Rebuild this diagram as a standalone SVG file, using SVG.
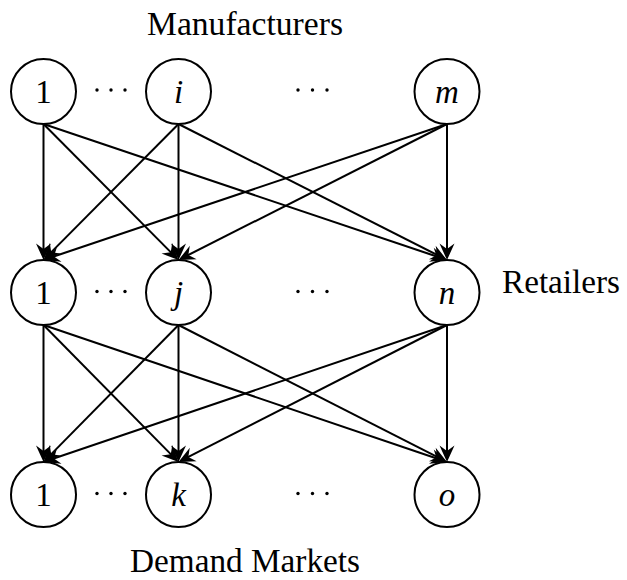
<svg xmlns="http://www.w3.org/2000/svg" width="627" height="580" viewBox="0 0 627 580">
<style>
.n{fill:#fff;stroke:#000;stroke-width:2}
.t{font-family:"Liberation Serif","DejaVu Serif",serif;font-size:33px;fill:#000;text-anchor:middle}
.i{font-style:italic}
.e line{stroke:#000;stroke-width:2;marker-end:url(#ah)}
.d{fill:#000}
</style>
<defs>
<marker id="ah" markerUnits="userSpaceOnUse" viewBox="-8 -9 20 18" refX="0" refY="0" markerWidth="20" markerHeight="18" orient="auto">
<path d="M10,0 L-6.5,7.5 L-1,0 L-6.5,-7.5 Z" fill="#000"/>
</marker>
</defs>
<rect width="627" height="580" fill="#fff"/>
<g id="labels">
<text class="t" x="245" y="35" textLength="196" lengthAdjust="spacingAndGlyphs">Manufacturers</text>
<text class="t" x="561" y="293" textLength="118" lengthAdjust="spacingAndGlyphs">Retailers</text>
<text class="t" x="245" y="572" textLength="230" lengthAdjust="spacingAndGlyphs">Demand Markets</text>
</g>
<g class="e" id="connectors">
<line x1="43.5" y1="124" x2="43.5" y2="250"/>
<line x1="43.5" y1="124" x2="171.45" y2="252.9"/>
<line x1="43.5" y1="124" x2="437.52" y2="256.81"/>
<line x1="178.5" y1="124" x2="50.55" y2="252.9"/>
<line x1="178.5" y1="124" x2="178.5" y2="250"/>
<line x1="178.5" y1="124" x2="438.08" y2="255.48"/>
<line x1="447" y1="124" x2="52.98" y2="256.81"/>
<line x1="447" y1="124" x2="187.42" y2="255.48"/>
<line x1="447" y1="124" x2="447" y2="250"/>
<line x1="43.5" y1="325" x2="43.5" y2="452"/>
<line x1="43.5" y1="325" x2="171.48" y2="454.88"/>
<line x1="43.5" y1="325" x2="437.53" y2="458.79"/>
<line x1="178.5" y1="325" x2="50.52" y2="454.88"/>
<line x1="178.5" y1="325" x2="178.5" y2="452"/>
<line x1="178.5" y1="325" x2="438.09" y2="457.46"/>
<line x1="447" y1="325" x2="52.97" y2="458.79"/>
<line x1="447" y1="325" x2="187.41" y2="457.46"/>
<line x1="447" y1="325" x2="447" y2="452"/>
</g>
<g id="m1"><circle class="n" cx="43.5" cy="91.5" r="32.5"/><text class="t" x="43.5" y="103">1</text></g>
<g id="mi"><circle class="n" cx="178.5" cy="91.5" r="32.5"/><text class="t i" x="178.5" y="103">i</text></g>
<g id="mm"><circle class="n" cx="447" cy="91.5" r="32.5"/><text class="t i" x="447" y="103">m</text></g>
<g id="r1"><circle class="n" cx="43.5" cy="292.5" r="32.5"/><text class="t" x="43.5" y="304">1</text></g>
<g id="rj"><circle class="n" cx="178.5" cy="292.5" r="32.5"/><text class="t i" x="178.5" y="304">j</text></g>
<g id="rn"><circle class="n" cx="447" cy="292.5" r="32.5"/><text class="t i" x="447" y="304">n</text></g>
<g id="d1"><circle class="n" cx="43.5" cy="494.5" r="32.5"/><text class="t" x="43.5" y="506">1</text></g>
<g id="dk"><circle class="n" cx="178.5" cy="494.5" r="32.5"/><text class="t i" x="178.5" y="506">k</text></g>
<g id="do"><circle class="n" cx="447" cy="494.5" r="32.5"/><text class="t i" x="447" y="506">o</text></g>
<g id="dots">
<circle class="d" cx="97" cy="90" r="1.7"/><circle class="d" cx="111" cy="90" r="1.7"/><circle class="d" cx="125" cy="90" r="1.7"/>
<circle class="d" cx="298" cy="90" r="1.7"/><circle class="d" cx="312.5" cy="90" r="1.7"/><circle class="d" cx="327" cy="90" r="1.7"/>
<circle class="d" cx="97" cy="291.5" r="1.7"/><circle class="d" cx="111" cy="291.5" r="1.7"/><circle class="d" cx="125" cy="291.5" r="1.7"/>
<circle class="d" cx="298" cy="291.5" r="1.7"/><circle class="d" cx="312.5" cy="291.5" r="1.7"/><circle class="d" cx="327" cy="291.5" r="1.7"/>
<circle class="d" cx="97" cy="493.5" r="1.7"/><circle class="d" cx="111" cy="493.5" r="1.7"/><circle class="d" cx="125" cy="493.5" r="1.7"/>
<circle class="d" cx="298" cy="493.5" r="1.7"/><circle class="d" cx="312.5" cy="493.5" r="1.7"/><circle class="d" cx="327" cy="493.5" r="1.7"/>
</g>
</svg>
